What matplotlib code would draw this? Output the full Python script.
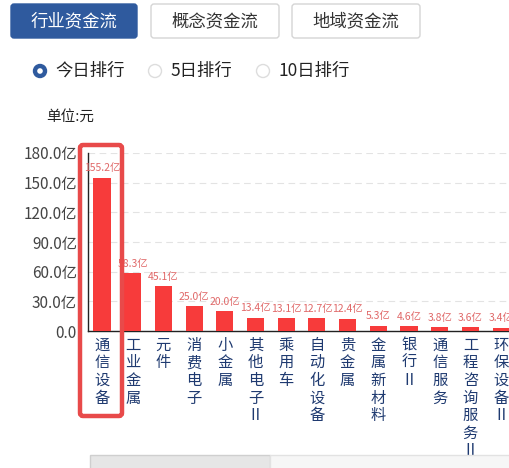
import matplotlib
matplotlib.use("Agg")
import matplotlib.pyplot as plt
from matplotlib.patches import FancyBboxPatch, Circle, Rectangle

plt.rcParams['font.family'] = ['Noto Sans CJK SC', 'DejaVu Sans']

categories = ["通信设备", "工业金属", "元件", "消费电子", "小金属", "其他电子Ⅱ", "乘用车",
              "自动化设备", "贵金属", "金属新材料", "银行Ⅱ", "通信服务", "工程咨询服务Ⅱ", "环保设备Ⅱ"]
values = [155.2, 58.3, 45.1, 25.0, 20.0, 13.4, 13.1, 12.7, 12.4, 5.3, 4.6, 3.8, 3.6, 3.4]
yticks = [0, 30, 60, 90, 120, 150, 180]
ytick_labels = ["0.0", "30.0亿", "60.0亿", "90.0亿", "120.0亿", "150.0亿", "180.0亿"]
tabs = ["行业资金流", "概念资金流", "地域资金流"]
radios = ["今日排行", "5日排行", "10日排行"]

W, H = 510, 468
fig = plt.figure(figsize=(W / 100, H / 100), dpi=100)
fig.patch.set_facecolor('white')

def fx(px):
    return px / W

def fy(py):
    return 1 - py / H

# main chart axes
left, right, top, bottom = 88, 510, 153, 331
ax = fig.add_axes([fx(left), fy(bottom), fx(right - left), (bottom - top) / H])
spacing = 30.7
x0 = -(102 - left) / spacing
ax.set_xlim(x0, x0 + (right - left) / spacing)
ax.set_ylim(0, 180)
xs = list(range(len(categories)))
ax.bar(xs, values, width=0.56, color='#f73b3b', zorder=3)
for x, v in zip(xs, values):
    ax.text(x, v + 4.5, f"{v:.1f}亿", ha='center', va='bottom', fontsize=7.5,
            color='#e06868', zorder=4)
ax.set_yticks(yticks)
ax.set_yticklabels(ytick_labels, fontsize=11, color='#444444')
ax.set_xticks(xs)
ax.set_xticklabels(["\n".join(c) for c in categories], fontsize=11,
                   color='#1f3a70', linespacing=1.05, va='top')
ax.tick_params(axis='both', length=0)
ax.tick_params(axis='x', pad=4)
ax.tick_params(axis='y', pad=8)
ax.grid(axis='y', color='#e3e3e3', linestyle=(0, (6, 4)), linewidth=0.8, zorder=0)
for s in ['top', 'right']:
    ax.spines[s].set_visible(False)
ax.spines['left'].set_color('#222222')
ax.spines['bottom'].set_color('#222222')
ax.spines['left'].set_linewidth(1.0)
ax.spines['bottom'].set_linewidth(1.0)

# overlay for UI elements
ov = fig.add_axes([0, 0, 1, 1], zorder=10)
ov.set_xlim(0, W)
ov.set_ylim(H, 0)
ov.axis('off')
ov.patch.set_alpha(0)

# tabs
tab_x = [(11, 137), (151, 279), (292, 420)]
for i, (t, (a, b)) in enumerate(zip(tabs, tab_x)):
    if i == 0:
        p = FancyBboxPatch((a, 4), b - a, 34, boxstyle="round,pad=0,rounding_size=3",
                           facecolor='#2f5a9e', edgecolor='#2f5a9e', linewidth=1)
        col = 'white'
    else:
        p = FancyBboxPatch((a, 4), b - a, 34, boxstyle="round,pad=0,rounding_size=3",
                           facecolor='white', edgecolor='#d5d5d5', linewidth=1)
        col = '#333333'
    ov.add_patch(p)
    ov.text((a + b) / 2, 21, t, ha='center', va='center', fontsize=12.5, color=col)

# radios
radio_pos = [(40, 55), (155, 170), (263, 279)]
for i, (t, (cx, tx)) in enumerate(zip(radios, radio_pos)):
    if i == 0:
        ov.add_patch(Circle((cx, 71), 6.5, facecolor='#2f5a9e', edgecolor='#2f5a9e'))
        ov.add_patch(Circle((cx, 71), 2.8, facecolor='white', edgecolor='none'))
    else:
        ov.add_patch(Circle((cx, 71), 6.5, facecolor='white', edgecolor='#dddddd', linewidth=1))
    ov.text(tx, 71, t, ha='left', va='center', fontsize=12.5, color='#222222')

ov.text(46, 117, "单位:元", ha='left', va='center', fontsize=10.5, color='#222222')

# highlight box
ov.add_patch(FancyBboxPatch((80, 145), 42, 271, boxstyle="round,pad=0,rounding_size=3",
                            facecolor='none', edgecolor='#e84a4a', linewidth=3.2))

# bottom scroll area
ov.add_patch(Rectangle((90, 455), 180, 14, facecolor='#e6e6e6', edgecolor='#cfcfcf', linewidth=1))
ov.add_patch(Rectangle((270, 455), 240, 14, facecolor='#f6f6f6', edgecolor='#e2e2e2', linewidth=1))

fig.savefig("out.png", dpi=100, facecolor='white')
